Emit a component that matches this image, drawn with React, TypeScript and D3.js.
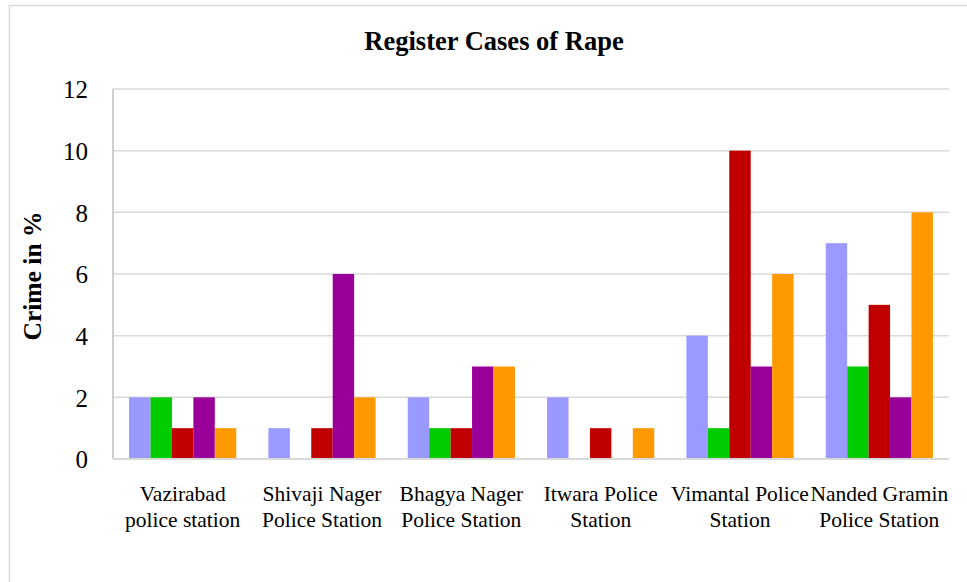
import React, { useEffect, useRef } from "react";
import * as d3 from "d3";

const categories = [
  ["Vazirabad", "police station"],
  ["Shivaji Nager", "Police Station"],
  ["Bhagya Nager", "Police Station"],
  ["Itwara Police", "Station"],
  ["Vimantal Police", "Station"],
  ["Nanded Gramin", "Police Station"],
];

const series1 = [2, 1, 2, 2, 4, 7];
const series2 = [2, 0, 1, 0, 1, 3];
const series3 = [1, 1, 1, 1, 10, 5];
const series4 = [2, 6, 3, 0, 3, 2];
const series5 = [1, 2, 3, 1, 6, 8];

const seriesColors = ["#9999FF", "#00CC00", "#C00000", "#990099", "#FF9900"];
const yTicks = [0, 2, 4, 6, 8, 10, 12];

const App: React.FC = () => {
  const svgRef = useRef<SVGSVGElement | null>(null);

  useEffect(() => {
    if (!svgRef.current) return;
    const svg = d3.select(svgRef.current);
    svg.selectAll("*").remove();

    const width = 967;
    const height = 582;
    const margin = { top: 89, right: 18, bottom: 123, left: 113 };
    const innerWidth = width - margin.left - margin.right;
    const innerHeight = height - margin.top - margin.bottom;
    const font = "Liberation Serif, serif";

    svg.attr("width", width).attr("height", height).style("font-family", font);

    svg
      .append("rect")
      .attr("x", 9.5)
      .attr("y", 5.5)
      .attr("width", 980)
      .attr("height", 600)
      .attr("fill", "#fff")
      .attr("stroke", "#d9d9d9")
      .attr("stroke-width", 1.5);

    svg
      .append("text")
      .attr("x", 494)
      .attr("y", 50)
      .attr("text-anchor", "middle")
      .style("font-family", font)
      .attr("font-weight", "bold")
      .attr("font-size", 26.5)
      .text("Register Cases of Rape");

    svg
      .append("text")
      .attr("transform", "translate(41,276) rotate(-90)")
      .attr("text-anchor", "middle")
      .style("font-family", font)
      .attr("font-weight", "bold")
      .attr("font-size", 25.5)
      .text("Crime in %");

    const g = svg
      .append("g")
      .attr("transform", `translate(${margin.left},${margin.top})`);

    const names = categories.map((c) => c.join(" "));
    const x0 = d3.scaleBand<string>().domain(names).range([0, innerWidth]).padding(0);
    const keys = d3.range(5).map(String);
    const x1 = d3
      .scaleBand<string>()
      .domain(keys)
      .range([0, x0.bandwidth()])
      .paddingInner(0)
      .paddingOuter(0.75);
    const y = d3.scaleLinear().domain([0, 12]).range([innerHeight, 0]);

    // gridlines
    g.selectAll("line.grid")
      .data(yTicks.filter((t) => t > 0))
      .enter()
      .append("line")
      .attr("x1", 0)
      .attr("x2", innerWidth)
      .attr("y1", (d) => y(d))
      .attr("y2", (d) => y(d))
      .attr("stroke", "#d9d9d9")
      .attr("stroke-width", 1.5);

    const allSeries = [series1, series2, series3, series4, series5];
    const rows = names.map((n, i) => ({
      name: n,
      values: allSeries.map((s, k) => ({ key: String(k), v: s[i] })),
    }));

    const groups = g
      .selectAll("g.cat")
      .data(rows)
      .enter()
      .append("g")
      .attr("transform", (d) => `translate(${x0(d.name)},0)`);

    groups
      .selectAll("rect")
      .data((d) => d.values)
      .enter()
      .append("rect")
      .attr("x", (d) => x1(d.key)!)
      .attr("y", (d) => y(d.v))
      .attr("width", x1.bandwidth())
      .attr("height", (d) => innerHeight - y(d.v))
      .attr("fill", (d) => seriesColors[+d.key]);

    // axes lines
    g.append("line")
      .attr("x1", 0)
      .attr("x2", 0)
      .attr("y1", 0)
      .attr("y2", innerHeight)
      .attr("stroke", "#bfbfbf")
      .attr("stroke-width", 1.5);
    g.append("line")
      .attr("x1", 0)
      .attr("x2", innerWidth)
      .attr("y1", innerHeight)
      .attr("y2", innerHeight)
      .attr("stroke", "#d9d9d9")
      .attr("stroke-width", 2);

    // y tick labels
    g.selectAll("text.ytick")
      .data(yTicks)
      .enter()
      .append("text")
      .attr("x", -25)
      .attr("y", (d) => y(d))
      .attr("dy", "0.37em")
      .attr("text-anchor", "end")
      .style("font-family", font)
      .attr("font-size", 25)
      .text((d) => d);

    // category labels
    const labels = g
      .selectAll("text.cat")
      .data(categories)
      .enter()
      .append("text")
      .attr("text-anchor", "middle")
      .style("font-family", font)
      .attr("font-size", 21.5)
      .attr("transform", (d) => `translate(${x0(d.join(" "))! + x0.bandwidth() / 2},${innerHeight + 42})`);
    labels
      .selectAll("tspan")
      .data((d) => d)
      .enter()
      .append("tspan")
      .attr("x", 0)
      .attr("y", (_d, i) => i * 25.5)
      .text((d) => d);
  }, []);

  return (
    <svg
      ref={svgRef}
      style={{ position: "absolute", left: 0, top: 0, display: "block" }}
    ></svg>
  );
};

export default App;
